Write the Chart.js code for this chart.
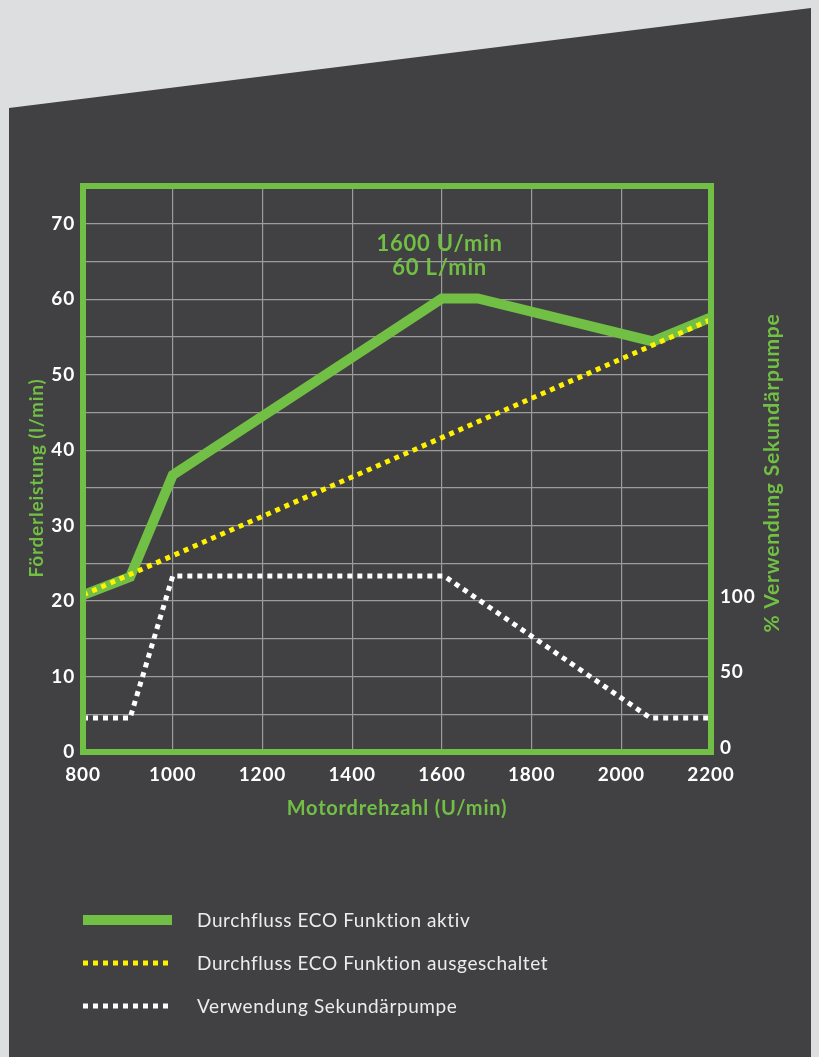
<!DOCTYPE html>
<html>
<head>
<meta charset="utf-8">
<script src="https://cdn.jsdelivr.net/npm/chart.js@4.4.1/dist/chart.umd.min.js"></script>
<style>
  html, body { margin: 0; padding: 0; background: #dddee0; }
  #wrap { width: 819px; height: 1057px; }
</style>
</head>
<body>
<div id="wrap"><canvas id="flowChart" width="819" height="1057"></canvas></div>
<script>
// values
const rpmTicks = [800, 1000, 1200, 1400, 1600, 1800, 2000, 2200];
const ecoOnRpm = [800, 905, 1000, 1600, 1680, 2070, 2200];
const ecoOnFlow = [20.8, 23.2, 36.7, 60.1, 60.1, 54.4, 57.6];
const ecoOffRpm = [800, 2200];
const ecoOffFlow = [20.8, 57.3];
const pumpRpm = [800, 905, 1000, 1605, 2065, 2200];
const pumpUse = [19.5, 19.5, 113.6, 113.6, 19.5, 19.5];
const pumpTicks = [0, 50, 100];
const peakNote = ["1600 U/min", "60 L/min"];

const green = "#71bf44";
const yellow = "#fff200";
const gridColor = "#9c9c9d";
const family = "Lato, 'Open Sans', sans-serif";
const tickFont = { family, size: 19, weight: "bold" };

const toPoints = (xs, ys) => xs.map((x, i) => ({ x, y: ys[i] }));

const sheet = {
  id: "sheet",
  beforeDraw(chart) {
    const { ctx, width, height } = chart;
    ctx.save();
    ctx.fillStyle = "#dddee0";
    ctx.fillRect(0, 0, width, height);
    ctx.fillStyle = "#414042";
    ctx.beginPath();
    ctx.moveTo(9, 108);
    ctx.lineTo(811, 8);
    ctx.lineTo(811, height);
    ctx.lineTo(9, height);
    ctx.closePath();
    ctx.fill();
    ctx.restore();
    // wider letters, closer to the original typeface
    ctx.letterSpacing = "0.8px";
  },
  afterDraw(chart) {
    const { ctx, chartArea: a, scales } = chart;
    ctx.save();

    // frame round the plot
    ctx.strokeStyle = green;
    ctx.lineWidth = 6;
    ctx.strokeRect(a.left, a.top, a.right - a.left, a.bottom - a.top);

    // rotated axis titles
    ctx.fillStyle = green;
    ctx.textAlign = "center";
    ctx.textBaseline = "middle";
    [["Förderleistung (l/min)", 37, 478, 19], ["% Verwendung Sekundärpumpe", 772, 473, 21]].forEach(([t, x, y, size]) => {
      ctx.save();
      ctx.font = "bold " + size + "px " + family;
      ctx.translate(x, y);
      ctx.rotate(-Math.PI / 2);
      ctx.fillText(t, 0, 0);
      ctx.restore();
    });

    // note at the peak
    ctx.font = "bold 22px " + family;
    ctx.textBaseline = "alphabetic";
    const nx = scales.x.getPixelForValue(1595);
    const ny = scales.y.getPixelForValue(66.4);
    peakNote.forEach((t, i) => ctx.fillText(t, nx, ny + i * 24));

    // legend
    ctx.textAlign = "left";
    ctx.textBaseline = "middle";
    ctx.font = "19px " + family;
    ctx.letterSpacing = "0.6px";
    chart.data.datasets.forEach((ds, i) => {
      const y = 920 + i * 43;
      ctx.beginPath();
      ctx.strokeStyle = ds.borderColor;
      ctx.lineWidth = ds.borderWidth;
      ctx.setLineDash(ds.borderDash || []);
      ctx.moveTo(83, y);
      ctx.lineTo(172, y);
      ctx.stroke();
      ctx.setLineDash([]);
      ctx.fillStyle = "#ececec";
      ctx.fillText(ds.label, 197, y + 1);
    });
    ctx.restore();
  }
};

new Chart(document.getElementById("flowChart"), {
  type: "line",
  data: {
    datasets: [
      {
        label: "Durchfluss ECO Funktion aktiv",
        data: toPoints(ecoOnRpm, ecoOnFlow),
        borderColor: green,
        borderWidth: 10,
        yAxisID: "y",
        order: 3
      },
      {
        label: "Durchfluss ECO Funktion ausgeschaltet",
        data: toPoints(ecoOffRpm, ecoOffFlow),
        borderColor: yellow,
        borderWidth: 5,
        borderDash: [5, 5],
        yAxisID: "y",
        order: 2
      },
      {
        label: "Verwendung Sekundärpumpe",
        data: toPoints(pumpRpm, pumpUse),
        borderColor: "#ffffff",
        borderWidth: 5,
        borderDash: [5, 5],
        yAxisID: "y1",
        order: 1
      }
    ]
  },
  options: {
    responsive: false,
    animation: false,
    layout: { padding: { top: 186, bottom: 230 } },
    elements: { point: { radius: 0 }, line: { tension: 0, borderCapStyle: "butt" } },
    plugins: { legend: { display: false }, tooltip: { enabled: false } },
    scales: {
      x: {
        type: "linear",
        min: 800,
        max: 2200,
        afterBuildTicks: s => { s.ticks = rpmTicks.map(v => ({ value: v })); },
        afterFit: s => { s.height = 75; },
        grid: { color: gridColor, lineWidth: 1.2, drawTicks: false },
        border: { display: false },
        ticks: { color: "#ffffff", font: tickFont, padding: 11, callback: v => String(v) },
        title: {
          display: true,
          text: "Motordrehzahl (U/min)",
          color: green,
          font: { family, size: 20, weight: "bold" },
          padding: { top: 0, bottom: 6 }
        }
      },
      y: {
        min: 0,
        max: 75,
        afterFit: s => { s.width = 83; },
        grid: { color: gridColor, lineWidth: 1.2, drawTicks: false },
        border: { display: false },
        ticks: {
          stepSize: 5,
          color: "#ffffff",
          font: tickFont,
          padding: 8,
          callback: v => (v % 10 === 0 ? v : "")
        }
      },
      y1: {
        position: "right",
        min: -3,
        max: 372,
        afterBuildTicks: s => { s.ticks = pumpTicks.map(v => ({ value: v })); },
        afterFit: s => { s.width = 108; },
        grid: { display: false, drawTicks: false },
        border: { display: false },
        ticks: { color: "#ffffff", font: tickFont, padding: 9 }
      }
    }
  },
  plugins: [sheet]
});
</script>
</body>
</html>
